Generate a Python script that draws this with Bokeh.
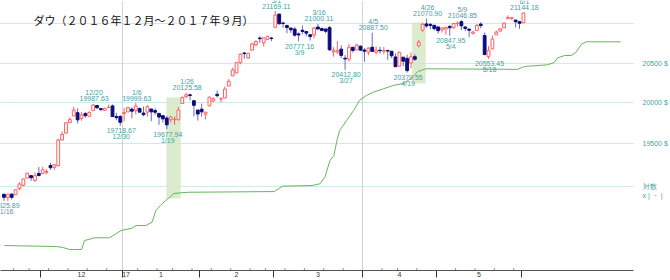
import pandas as pd
from bokeh.plotting import figure
from bokeh.models import Range1d, FixedTicker, Label, ColumnDataSource
from bokeh.core.properties import value
from bokeh.embed import file_html
from bokeh.resources import INLINE

# ---------------- data ----------------
holidays = ["2016-11-24", "2016-12-26", "2017-01-02", "2017-01-16",
            "2017-02-20", "2017-04-14", "2017-05-29"]
dates = pd.bdate_range("2016-11-16", "2017-06-01")
dates = dates[~dates.isin(pd.to_datetime(holidays))]

opens = [18903, 18866, 18905, 18898, 18971, 19009, 19093, 19122, 19065, 19148,
         19149, 19162, 19242, 19220, 19241, 19549, 19631, 19758, 19840, 19880,
         19811, 19871, 19836, 19906, 19969, 19931, 19908, 19943, 19964, 19835, 19833,
         19872, 19890, 19924, 19906, 19932, 19876, 19887, 19926, 19906, 19872,
         19844, 19815, 19795, 19794, 19794, 19994, 20076, 20101, 20028, 19913,
         19923, 19861, 19964, 20025, 20107, 20049, 20061, 20211, 20338, 20374,
         20504, 20627, 20564, 20663, 20730, 20819, 20757, 20801, 20819,
         20957, 21129, 21013, 20979, 20948, 20934, 20872, 20919, 20903, 20861,
         20858, 20960, 20941, 20935, 20953, 20640, 20640, 20676, 20560, 20550,
         20700, 20666, 20714,
         20665, 20640, 20700, 20635, 20662, 20650, 20660, 20649, 20577, 20460,
         20574, 20558, 20500, 20580, 20720, 20920, 21001, 20995, 20983,
         20962, 20924, 20935, 20968, 20951, 21004, 21030, 20961, 20934, 20880,
         20916, 20998, 20851, 20580, 20680, 20860, 20908, 20950, 21070, 21070,
         21051, 21030,
         21018]
highs = [18910, 18904, 18915, 18957, 19043, 19084, 19152, 19129, 19160, 19225,
         19225, 19196, 19275, 19253, 19564, 19650, 19757, 19826, 19953, 19935,
         19888, 19886, 19898, 19987.63, 19970, 19934, 19942, 19980, 19981, 19878, 19852,
         19938, 19956, 19948, 19999.63, 19944, 19957, 19973, 19926, 19935, 19872,
         19849, 19838, 19843, 19833, 19949, 20081, 20125.58, 20113, 20028, 19913,
         19992, 19894, 20081, 20070, 20155, 20070, 20206, 20298, 20441, 20504,
         20620, 20639, 20625, 20758, 20788, 20840, 20822, 20851, 20834,
         21169.11, 21129, 21031, 20992, 20949, 20960, 20890, 20981, 20905, 20865,
         20960, 21000.11, 20955, 20942, 20976, 20701, 20779, 20727, 20600, 20745,
         20703, 20745, 20723,
         20689, 20700, 20887.50, 20713, 20707, 20703, 20667, 20654, 20621, 20642,
         20574, 20606, 20635, 20610, 20794, 21016, 21070.90, 21012, 20985,
         20963, 20954, 20960, 20986, 21012, 21033, 21046.85, 20977, 20934, 20903,
         21000, 21024, 20890, 20715, 20850, 20917, 20950, 21025, 21112, 21092,
         21051, 21041,
         21144.18]
lows = [18825.89, 18826, 18843, 18898, 18951, 18998, 19093, 19061, 19049, 19113,
        19140, 19138, 19190, 19187, 19230, 19541, 19631, 19758, 19840, 19749,
        19783, 19819, 19836, 19906, 19927, 19899, 19905, 19939, 19827, 19788, 19718.67,
        19775, 19890, 19811, 19860, 19887, 19836, 19834, 19777, 19853, 19732,
        19760, 19677.94, 19759, 19732, 19786, 19994, 20061, 20033, 19835, 19784,
        19832, 19799, 19964, 20010, 20068, 20010, 20061, 20211, 20338, 20374,
        20484, 20556, 20554, 20663, 20715, 20757, 20710, 20801, 20779,
        20957, 20995, 20952, 20881, 20886, 20837, 20777.16, 20868, 20841, 20787,
        20813, 20934, 20913, 20880, 20654, 20581, 20616, 20563, 20412.80, 20518,
        20632, 20666, 20656,
        20517, 20599, 20639, 20611, 20617, 20611, 20540, 20563, 20453, 20460,
        20459, 20379.55, 20432, 20528, 20700, 20900, 20951, 20930, 20916,
        20876, 20890, 20860, 20847.95, 20940, 20966, 20922, 20910, 20830, 20862,
        20916, 20944, 20606, 20553.45, 20675, 20860, 20905, 20950, 21066, 21053,
        20955, 20936,
        21018]
closes = [18868.69, 18903.82, 18867.93, 18956.69, 19023.87, 19083.18, 19152.14, 19097.90, 19121.60, 19123.58,
          19191.93, 19170.42, 19216.24, 19251.78, 19549.62, 19614.81, 19756.85, 19796.43, 19911.21, 19792.53,
          19852.24, 19843.41, 19883.06, 19974.62, 19941.96, 19918.88, 19933.81, 19945.04, 19833.68, 19819.78, 19762.60,
          19881.76, 19942.16, 19899.29, 19963.80, 19887.38, 19855.53, 19954.28, 19891.00, 19885.73, 19826.77,
          19804.72, 19732.40, 19827.25, 19799.85, 19912.71, 20068.51, 20100.91, 20093.78, 19971.13, 19864.09,
          19890.94, 19884.91, 20071.46, 20052.42, 20090.29, 20054.34, 20172.40, 20269.37, 20412.16, 20504.41,
          20611.86, 20619.77, 20624.05, 20743.00, 20775.60, 20810.32, 20821.76, 20837.44, 20812.24,
          21115.55, 21002.97, 21005.71, 20954.34, 20924.76, 20855.73, 20858.19, 20902.98, 20881.48, 20837.37,
          20950.10, 20934.55, 20914.62, 20905.86, 20668.01, 20661.30, 20656.58, 20596.72, 20550.98, 20701.50,
          20659.32, 20728.49, 20663.22,
          20650.21, 20689.24, 20648.15, 20662.95, 20656.10, 20658.02, 20651.30, 20591.86, 20453.25, 20636.92,
          20523.28, 20404.49, 20578.71, 20547.76, 20763.89, 20996.12, 20975.09, 20981.33, 20940.51,
          20913.46, 20949.89, 20957.90, 20951.47, 21006.94, 21012.42, 20975.78, 20943.11, 20919.42, 20896.61,
          20981.94, 20979.75, 20606.93, 20663.02, 20804.84, 20894.83, 20937.91, 21012.28, 21082.95, 21080.28,
          21029.47, 21008.65,
          21144.18]

# shifted cloud line (trading-day index, price)
green_idx = [0.1, 13.6, 15.2, 17.0, 20.0, 20.8, 23.4, 27.2, 29.0, 30.2, 33.0, 34.1, 36.6,
             38.2, 39.2, 40.4, 41.7, 43.0, 43.8, 45.5, 47.6, 69.8, 71.8, 79.5, 81.5, 82.8,
             84.1, 85.1, 85.9, 86.6, 88.4, 90.2, 91.7, 93.5, 95.3, 97.9, 100.4, 103.0,
             105.0, 106.8, 108.8, 132.5, 134.3, 140.2, 142.0, 142.8, 144.6, 146.3, 147.6,
             148.9, 150.2, 159.1]
green_val = [18314, 18303, 18292, 18269, 18269, 18371, 18402, 18402, 18451, 18485, 18511, 18542, 18542,
             18580, 18715, 18773, 18831, 18877, 18912, 18920, 18927, 18935, 18998, 19006, 19026, 19104,
             19302, 19361, 19542, 19663, 19785, 19907, 20031, 20093, 20134, 20176, 20217, 20242,
             20305, 20393, 20427, 20420, 20456, 20477, 20507, 20564, 20595, 20595, 20637,
             20736, 20770, 20770]

# highlighted zones
shade_left = [41.9, 105.3]
shade_right = [45.6, 108.8]
shade_top = [20068, 21019]
shade_bottom = [18854, 20242]

# swing labels
label_dates = ["2016-11-16", "2016-12-20", "2016-12-30", "2017-01-06", "2017-01-19",
               "2017-01-26", "2017-03-01", "2017-03-09", "2017-03-16", "2017-03-27",
               "2017-04-05", "2017-04-19", "2017-04-26", "2017-05-04", "2017-05-09",
               "2017-05-18", "2017-06-01"]
label_kind = ["low", "high", "low", "high", "low", "high", "high", "low", "high", "low",
              "high", "low", "high", "low", "high", "low", "high"]

price_ticks = [19000, 19500, 20000, 20500, 21000]
price_label_ticks = [19500, 20000, 20500]
title_text = "ダウ（２０１６年１２月～２０１７年９月）"
# log-scale badge sitting over the 19000 label on the price axis
badge_price = 19000
badge_text = "対数"
badge_sub_price = 18889
badge_sub_text = "x | ・ |"

# ---------------- derived ----------------
n = len(dates)
idx = list(range(n))
up = [c >= o for o, c in zip(opens, closes)]
UP, DOWN = "#ff5f5f", "#0c0c7c"
src = ColumnDataSource(dict(
    x=idx, o=opens, h=highs, l=lows, c=closes,
    top=[max(o, c) for o, c in zip(opens, closes)],
    bot=[min(o, c) for o, c in zip(opens, closes)],
    fill=["white" if u else DOWN for u in up],
    line=[UP if u else DOWN for u in up],
    wick=[UP if u else "#6a6abf" for u in up],
))

month_starts = [i for i in range(1, n) if dates[i].month != dates[i - 1].month]
month_ticks = [m - 0.5 for m in month_starts]
label_pos, label_txt = [], []
for a, b in zip(month_starts[:-1], month_starts[1:]):
    label_pos.append((a + b - 1) / 2)
    label_txt.append(str(dates[a].month))
year_start = [i for i in range(1, n) if dates[i].year != dates[i - 1].year][0]
label_pos.append(year_start + 0.5)
label_txt.append(str(dates[year_start].year % 100))
quarter_lines = [m - 0.5 for m in month_starts if dates[m].month in (1, 4, 7, 10)]
week_starts = [i - 0.5 for i in range(1, n)
               if dates[i].isocalendar()[1] != dates[i - 1].isocalendar()[1]
               and i not in month_starts]

# ---------------- figure ----------------
Y_TOP, Y_BOT = 21307, 18034
p = figure(width=670, height=280, x_range=Range1d(-0.893, 162.4),
           y_range=Range1d(Y_BOT, Y_TOP), y_axis_type="log", y_axis_location="right",
           output_backend="svg", toolbar_location=None,
           min_border_left=0, min_border_right=30, min_border_top=0, min_border_bottom=10)
p.outline_line_color = None
p.background_fill_color = "white"
p.border_fill_color = "white"

# grids
p.ygrid.ticker = FixedTicker(ticks=price_ticks)
p.ygrid.grid_line_color = "#9fd3d8"
p.ygrid.grid_line_dash = "1 1"
p.xgrid.ticker = FixedTicker(ticks=quarter_lines)
p.xgrid.grid_line_color = "#a8a8a8"
p.xgrid.grid_line_dash = "1 1"

# right price axis
ya = p.yaxis[0]
ya.ticker = FixedTicker(ticks=price_label_ticks + [badge_price, badge_sub_price])
overrides = {t: f"{t} $" for t in price_label_ticks}
overrides[badge_price] = badge_text
overrides[badge_sub_price] = badge_sub_text
ya.major_label_overrides = overrides
ya.axis_line_color = None
ya.major_tick_line_color = None
ya.minor_tick_line_color = None
ya.major_label_standoff = 3
ya.major_label_text_font = "Liberation Sans"
ya.major_label_text_font_size = "7px"
ya.major_label_text_color = "#3f9f9f"

# bottom month axis
xa = p.xaxis[0]
xa.ticker = FixedTicker(ticks=label_pos, minor_ticks=month_ticks)
xa.major_label_overrides = {pos: t for pos, t in zip(label_pos, label_txt)}
xa.major_tick_line_color = None
xa.major_tick_in = 0
xa.major_tick_out = 0
xa.minor_tick_line_color = "#333333"
xa.minor_tick_in = 0
xa.minor_tick_out = 7
xa.axis_line_color = "#555555"
xa.major_label_standoff = -6
xa.major_label_text_font = "Liberation Sans"
xa.major_label_text_font_size = "7px"
xa.major_label_text_color = "#333333"

# weekly red marks on the time axis
wk_low = [Y_BOT] * len(week_starts)
wk_high = [Y_BOT * 1.0013] * len(week_starts)
p.segment(x0=week_starts, x1=week_starts, y0=wk_low, y1=wk_high, line_color="#ff4040", line_width=1)

# shaded zones
p.quad(left=shade_left, right=shade_right, top=shade_top, bottom=shade_bottom,
       fill_color="#d5e7c4", fill_alpha=0.85, line_color=None)

# cloud line
p.line(green_idx, green_val, line_color="#66b55a", line_width=1)

# candles
p.segment(x0="x", x1="x", y0="h", y1="l", line_color="wick", line_width=1, source=src)
p.vbar(x="x", width=0.72, top="top", bottom="bot", fill_color="fill", line_color="line",
       line_width=1, source=src)

# swing labels
date_pos = {d.strftime("%Y-%m-%d"): i for i, d in enumerate(dates)}
for kind in ("high", "low"):
    xs, ys, vt, dt = [], [], [], []
    for d, k in zip(label_dates, label_kind):
        if k != kind:
            continue
        i = date_pos[d]
        v = highs[i] if k == "high" else lows[i]
        xs.append(i)
        ys.append(v)
        vt.append(f"{v:.2f}")
        dt.append(f"{dates[i].month}/{dates[i].day}")
    sgn = -1 if kind == "high" else 1
    for txt, off in ((vt, 5), (dt, 11)):
        p.text(x=xs, y=ys, text=txt, x_offset=1, y_offset=sgn * off,
               text_align="center", text_baseline="middle",
               text_font=value("Liberation Sans"), text_font_size="7px",
               text_color="#3f9f9f")

# title
p.add_layout(Label(x=33, y=250.5, x_units="screen", y_units="screen", text=title_text,
                   text_font="Noto Sans CJK JP", text_font_size="11px",
                   text_color="#111111", text_baseline="middle"))

open("out.html", "w").write(file_html(p, INLINE))
